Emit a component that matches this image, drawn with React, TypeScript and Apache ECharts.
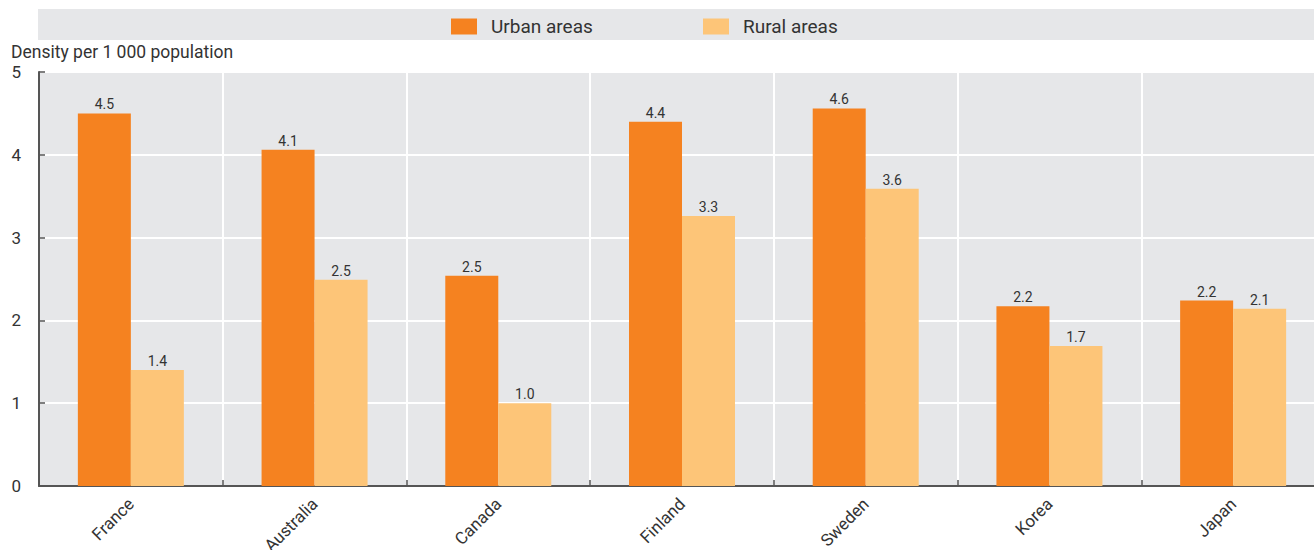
import React, { useEffect, useRef } from "react";
import * as echarts from "echarts";

const categories = ["France", "Australia", "Canada", "Finland", "Sweden", "Korea", "Japan"];
const urbanValues = [4.5, 4.06, 2.54, 4.4, 4.56, 2.17, 2.24];
const ruralValues = [1.4, 2.49, 1.0, 3.26, 3.59, 1.69, 2.14];
const yTicks = [0, 1, 2, 3, 4, 5];
const seriesNames = ["Urban areas", "Rural areas"];

const FONT = "Roboto, 'Liberation Sans', sans-serif";
const URBAN = "#f58220";
const RURAL = "#fdc578";
const BG = "#e6e7e9";
const TXT = "#333333";

export default function App() {
  const ref = useRef<HTMLDivElement>(null);
  useEffect(() => {
    document.body.style.margin = "0";
    if (!ref.current) return;
    const chart = echarts.init(ref.current, null, { renderer: "svg" });
    const label = {
      show: true,
      position: "top",
      distance: 2,
      color: TXT,
      fontSize: 14,
      fontFamily: FONT,
      formatter: (p: any) => Number(p.value).toFixed(1),
    };
    const legendText = { color: TXT, fontSize: 19, fontFamily: FONT, padding: [0, 0, 0, 9] };
    chart.setOption({
      animation: false,
      textStyle: { fontFamily: FONT },
      graphic: [
        {
          type: "rect",
          shape: { x: 38, y: 9, width: 1276, height: 31 },
          style: { fill: BG },
          z: -10,
        },
        {
          type: "text",
          x: 11,
          y: 52,
          style: {
            text: "Density per 1 000 population",
            fill: TXT,
            fontSize: 17.5,
            fontFamily: FONT,
            verticalAlign: "middle",
          },
        },
      ],
      legend: [
        {
          data: [seriesNames[0]],
          left: 451,
          top: 17,
          itemWidth: 26,
          itemHeight: 16,
          icon: "rect",
          textStyle: legendText,
          padding: 0,
        },
        {
          data: [seriesNames[1]],
          left: 703,
          top: 17,
          itemWidth: 26,
          itemHeight: 16,
          icon: "rect",
          textStyle: legendText,
          padding: 0,
        },
      ],
      grid: { left: 39, right: 0, top: 72, bottom: 64, containLabel: false, outerBoundsMode: "none", show: true, backgroundColor: BG, borderWidth: 0 },
      xAxis: {
        type: "category",
        data: categories,
        axisLine: { lineStyle: { color: "#555555", width: 2 } },
        axisTick: { show: true, inside: true, length: 6, lineStyle: { color: "#555555", width: 1.5 } },
        splitLine: { show: true, lineStyle: { color: "#ffffff", width: 2 } },
        axisLabel: { rotate: 45, color: TXT, fontSize: 17, fontFamily: FONT, margin: 15 },
      },
      yAxis: {
        type: "value",
        min: yTicks[0],
        max: yTicks[yTicks.length - 1],
        interval: 1,
        axisLine: { show: true, lineStyle: { color: "#555555", width: 2 } },
        axisTick: { show: true, inside: true, length: 6, lineStyle: { color: "#555555", width: 1.5 } },
        splitLine: { show: true, lineStyle: { color: "#ffffff", width: 2 } },
        axisLabel: { color: TXT, fontSize: 17, fontFamily: FONT, margin: 18 },
      },
      series: [
        {
          name: seriesNames[0],
          type: "bar",
          data: urbanValues,
          barWidth: 53,
          barGap: "0%",
          itemStyle: { color: URBAN },
          label,
        },
        {
          name: seriesNames[1],
          type: "bar",
          data: ruralValues,
          barWidth: 53,
          barGap: "0%",
          itemStyle: { color: RURAL },
          label,
        },
      ],
    });
    return () => chart.dispose();
  }, []);
  return (
    <div style={{ width: 1314, height: 550, overflow: "hidden", position: "relative" }}>
      <div ref={ref} style={{ width: 1325, height: 550 }} />
    </div>
  );
}
